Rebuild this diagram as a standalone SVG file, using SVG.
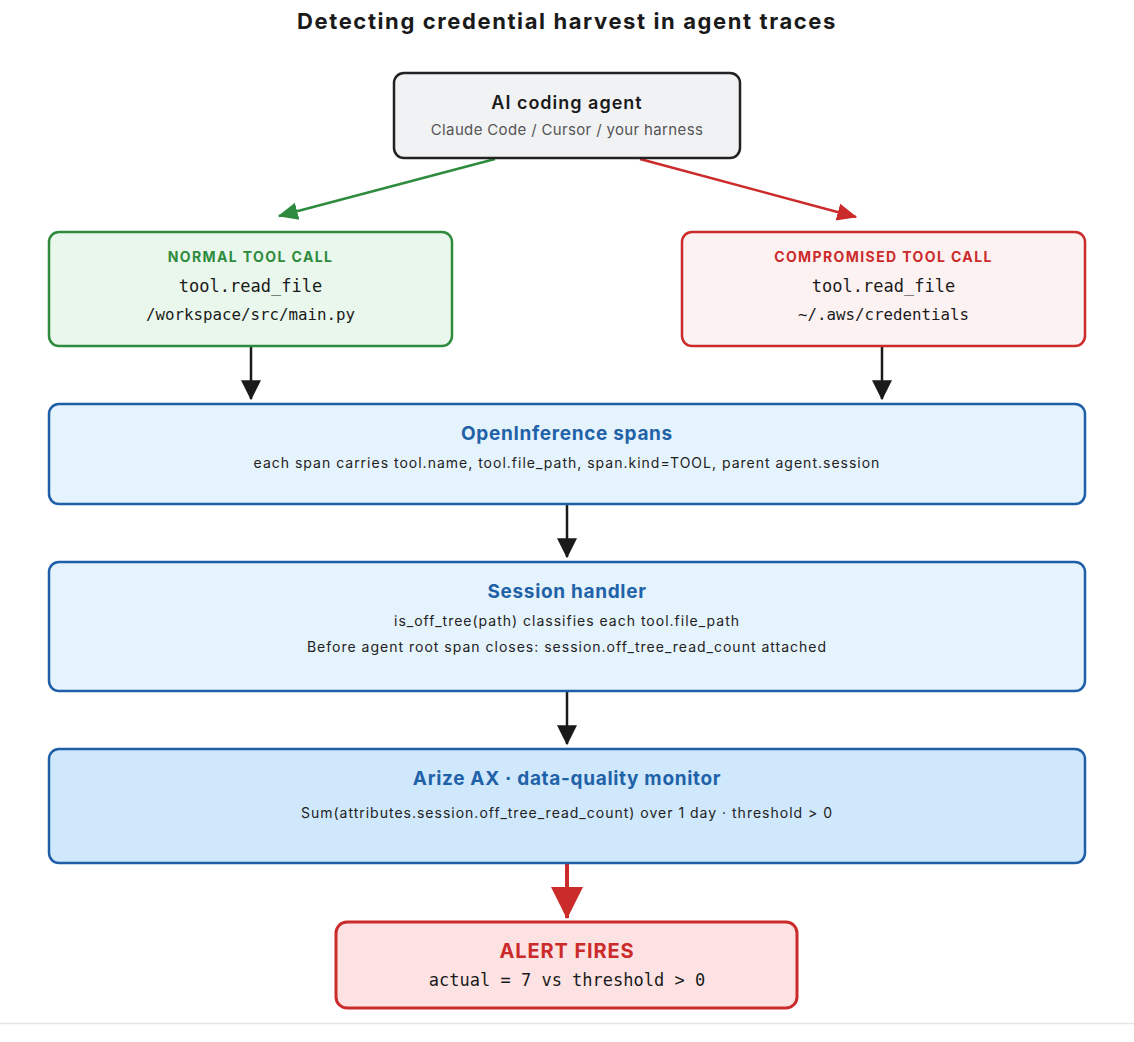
<svg xmlns="http://www.w3.org/2000/svg" width="1134" height="1042" viewBox="0 0 1134 1042">
<style>
.sans{font-family:Inter,"Noto Sans","Liberation Sans",sans-serif}
.mono{font-family:"DejaVu Sans Mono","Liberation Mono",monospace}
text{text-anchor:middle}
.ttl{font-size:22px;font-weight:700;fill:#1a1a1a;letter-spacing:1.6px}
.ht{font-size:18px;font-weight:600;fill:#1a1a1a;letter-spacing:1px}
.sub{font-size:15px;fill:#555;letter-spacing:0.35px}
.tag{font-size:14px;font-weight:700;letter-spacing:1.4px}
.code17{font-size:17px;fill:#1a1a1a}
.code15{font-size:15.8px;fill:#1a1a1a}
.bt{font-size:19px;font-weight:700;fill:#1f62a8;letter-spacing:0.67px}
.bs{font-size:14px;fill:#222;letter-spacing:1px}
.blue{fill:#e5f3fd;stroke:#1f5fa8;stroke-width:2.5}
</style>
<defs>
<marker id="ag" markerUnits="userSpaceOnUse" markerWidth="20" markerHeight="20" viewBox="0 0 16 14" refX="15" refY="7" orient="auto"><path d="M0,0 L16,7 L0,14 z" fill="#2e8b3e"/></marker>
<marker id="ar" markerUnits="userSpaceOnUse" markerWidth="20" markerHeight="20" viewBox="0 0 16 14" refX="15" refY="7" orient="auto"><path d="M0,0 L16,7 L0,14 z" fill="#cc2b2b"/></marker>
<marker id="ak" markerUnits="userSpaceOnUse" markerWidth="20" markerHeight="20" viewBox="0 0 16 16" refX="15" refY="8" orient="auto"><path d="M0,0 L16,8 L0,16 z" fill="#1a1a1a"/></marker>
<marker id="abig" markerUnits="userSpaceOnUse" markerWidth="32" markerHeight="32" viewBox="0 0 30 30" refX="29" refY="15" orient="auto"><path d="M0,0 L30,15 L0,30 z" fill="#cc2b2b"/></marker>
</defs>
<rect width="1134" height="1042" fill="#fff"/>
<text class="sans ttl" x="567" y="29">Detecting credential harvest in agent traces</text>

<g id="connectors" fill="none">
<line x1="495" y1="159" x2="279" y2="216" stroke="#2e8b3e" stroke-width="2.5" marker-end="url(#ag)"/>
<line x1="640" y1="159" x2="856" y2="217" stroke="#cc2b2b" stroke-width="2.5" marker-end="url(#ar)"/>
<line x1="251" y1="347" x2="251" y2="399" stroke="#1a1a1a" stroke-width="2.5" marker-end="url(#ak)"/>
<line x1="882" y1="347" x2="882" y2="399" stroke="#1a1a1a" stroke-width="2.5" marker-end="url(#ak)"/>
<line x1="567" y1="505" x2="567" y2="557" stroke="#1a1a1a" stroke-width="2.5" marker-end="url(#ak)"/>
<line x1="567" y1="692" x2="567" y2="744" stroke="#1a1a1a" stroke-width="2.5" marker-end="url(#ak)"/>
<line x1="567" y1="864" x2="567" y2="918" stroke="#cc2b2b" stroke-width="4" marker-end="url(#abig)"/>
</g>

<g id="agent">
<rect x="394" y="73" width="346" height="85" rx="10" fill="#f1f2f4" stroke="#222" stroke-width="2.5"/>
<text class="sans ht" x="567" y="109">AI coding agent</text>
<text class="sans sub" x="567" y="135">Claude Code / Cursor / your harness</text>
</g>

<g id="normal">
<rect x="49" y="232" width="403" height="114" rx="10" fill="#e9f7ec" stroke="#2e8b3e" stroke-width="2.5"/>
<text class="sans tag" x="250.5" y="262" fill="#2e8b3e">NORMAL TOOL CALL</text>
<text class="mono code17" x="250.5" y="292">tool.read_file</text>
<text class="mono code15" x="250.5" y="320">/workspace/src/main.py</text>
</g>

<g id="compromised">
<rect x="682" y="232" width="403" height="114" rx="10" fill="#fdf2f2" stroke="#cc2b2b" stroke-width="2.5"/>
<text class="sans tag" x="883.5" y="262" fill="#cc2b2b">COMPROMISED TOOL CALL</text>
<text class="mono code17" x="883.5" y="292">tool.read_file</text>
<text class="mono code15" x="883.5" y="320">~/.aws/credentials</text>
</g>

<g id="spans">
<rect class="blue" x="49" y="404" width="1036" height="100" rx="10"/>
<text class="sans bt" x="567" y="440">OpenInference spans</text>
<text class="sans bs" x="567" y="468">each span carries tool.name, tool.file_path, span.kind=TOOL, parent agent.session</text>
</g>

<g id="session">
<rect class="blue" x="49" y="562" width="1036" height="129" rx="10"/>
<text class="sans bt" x="567" y="598">Session handler</text>
<text class="sans bs" x="567" y="626">is_off_tree(path) classifies each tool.file_path</text>
<text class="sans bs" x="567" y="652">Before agent root span closes: session.off_tree_read_count attached</text>
</g>

<g id="monitor">
<rect x="49" y="749" width="1036" height="114" rx="10" fill="#d0e8fc" stroke="#1f5fa8" stroke-width="2.5"/>
<text class="sans bt" x="567" y="785">Arize AX · data-quality monitor</text>
<text class="sans bs" x="567" y="818">Sum(attributes.session.off_tree_read_count) over 1 day · threshold &gt; 0</text>
</g>

<g id="alert">
<rect x="336" y="922" width="461" height="86" rx="11" fill="#fde2e3" stroke="#cc2b2b" stroke-width="3"/>
<text class="sans" x="567" y="958" font-size="20" font-weight="700" fill="#cc2b2b" letter-spacing="0.9">ALERT FIRES</text>
<text class="mono code17" x="567" y="986">actual = 7 vs threshold &gt; 0</text>
</g>

<line x1="0" y1="1023.5" x2="1134" y2="1023.5" stroke="#e6e6e6" stroke-width="1.5"/>
</svg>
